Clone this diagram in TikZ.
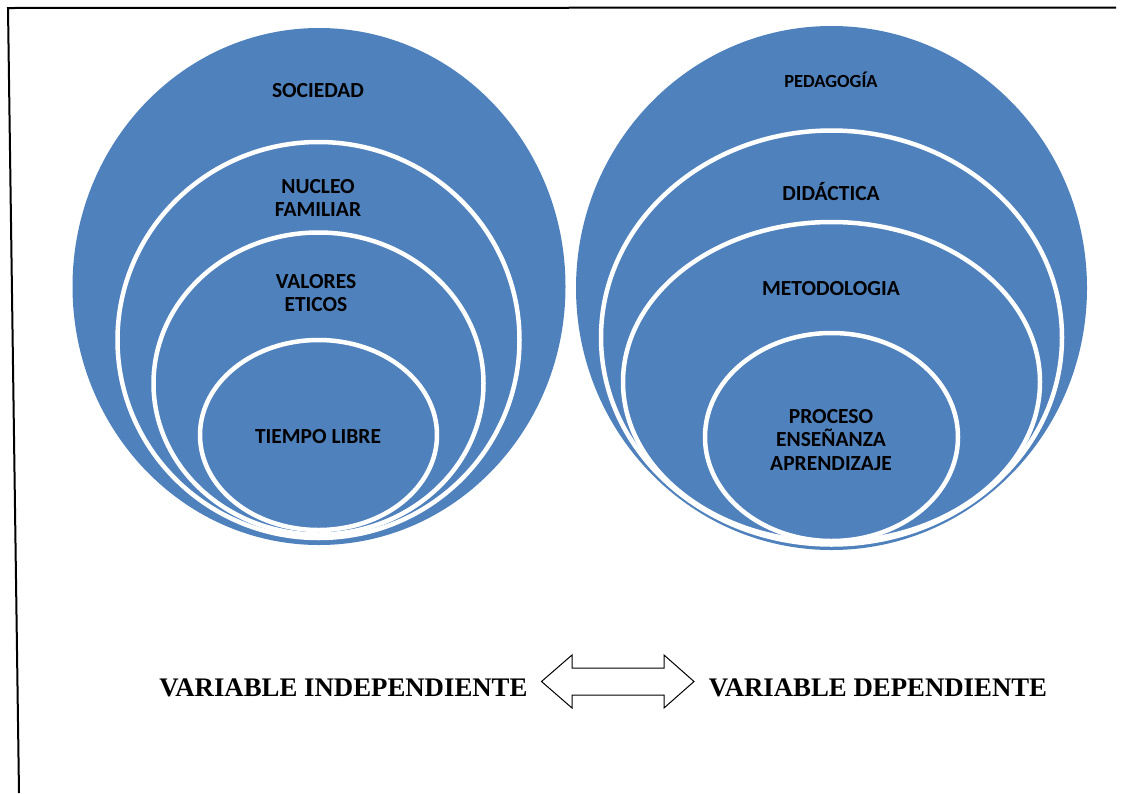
\documentclass[tikz,border=0pt]{standalone}
\usepackage{fontspec}
\setmainfont{Liberation Serif}
\newfontfamily\calibrifont{Carlito}
\usetikzlibrary{shapes.geometric}
\definecolor{officeblue}{HTML}{4F81BD}
\tikzset{
  blob/.style={ellipse, fill=officeblue, inner sep=0pt},
  ring/.style={blob, draw=white, line width=4.5pt},
  lbl/.style={font=\calibrifont\bfseries\fontsize{21.5}{23.5}\selectfont, align=center, text=black},
  small/.style={lbl, font=\calibrifont\bfseries\fontsize{18.5}{22}\selectfont},
  varlbl/.style={font=\bfseries\fontsize{26.8}{30}\selectfont}
}
\begin{document}
\begin{tikzpicture}[x=1pt,y=-1pt]
\useasboundingbox (0,0) rectangle (1125,793);
% frame
\draw[line width=2pt] (1116,7.5) -- (8,8) -- (19,793);
% left set
\node[blob, minimum width=493, minimum height=517] (soc) at (319,286.5) {};
\node[ring, minimum width=402, minimum height=396] (nuc) at (318.5,340) {};
\node[ring, minimum width=330, minimum height=302] (val) at (318.5,383.5) {};
\node[ring, minimum width=237, minimum height=190] (tie) at (318.5,435) {};
\node[lbl] (tsoc) at (318,91) {SOCIEDAD};
\node[lbl] (tnuc) at (318,198) {NUCLEO\\FAMILIAR};
\node[lbl] (tval) at (316,293) {VALORES\\ETICOS};
\node[lbl] (ttie) at (318,437) {TIEMPO LIBRE};
% right set
\node[blob, minimum width=511, minimum height=524] (ped) at (831.5,288) {};
\node[ring, minimum width=461, minimum height=414] (did) at (831.5,337.5) {};
\node[ring, minimum width=417, minimum height=320] (met) at (831.5,382) {};
\node[ring, minimum width=253, minimum height=208] (pro) at (831.5,437) {};
\node[small] (tped) at (831,80) {PEDAGOGÍA};
\node[lbl] (tdid) at (831,192) {DIDÁCTICA};
\node[lbl] (tmet) at (831,289) {METODOLOGIA};
\node[lbl] (tpro) at (831,440) {PROCESO\\ENSEÑANZA\\APRENDIZAJE};
% bottom labels
\node[varlbl] (vi) at (343.5,688) {VARIABLE INDEPENDIENTE};
\node[varlbl] (vd) at (878,688) {VARIABLE DEPENDIENTE};
% double arrow
\draw[line width=1pt, fill=white, line join=miter]
  (541.5,681.5) -- (572,655) -- (572,668) -- (664,668) -- (664,655)
  -- (694,681.5) -- (664,708) -- (664,695) -- (572,695) -- (572,708) -- cycle;
\end{tikzpicture}
\end{document}
